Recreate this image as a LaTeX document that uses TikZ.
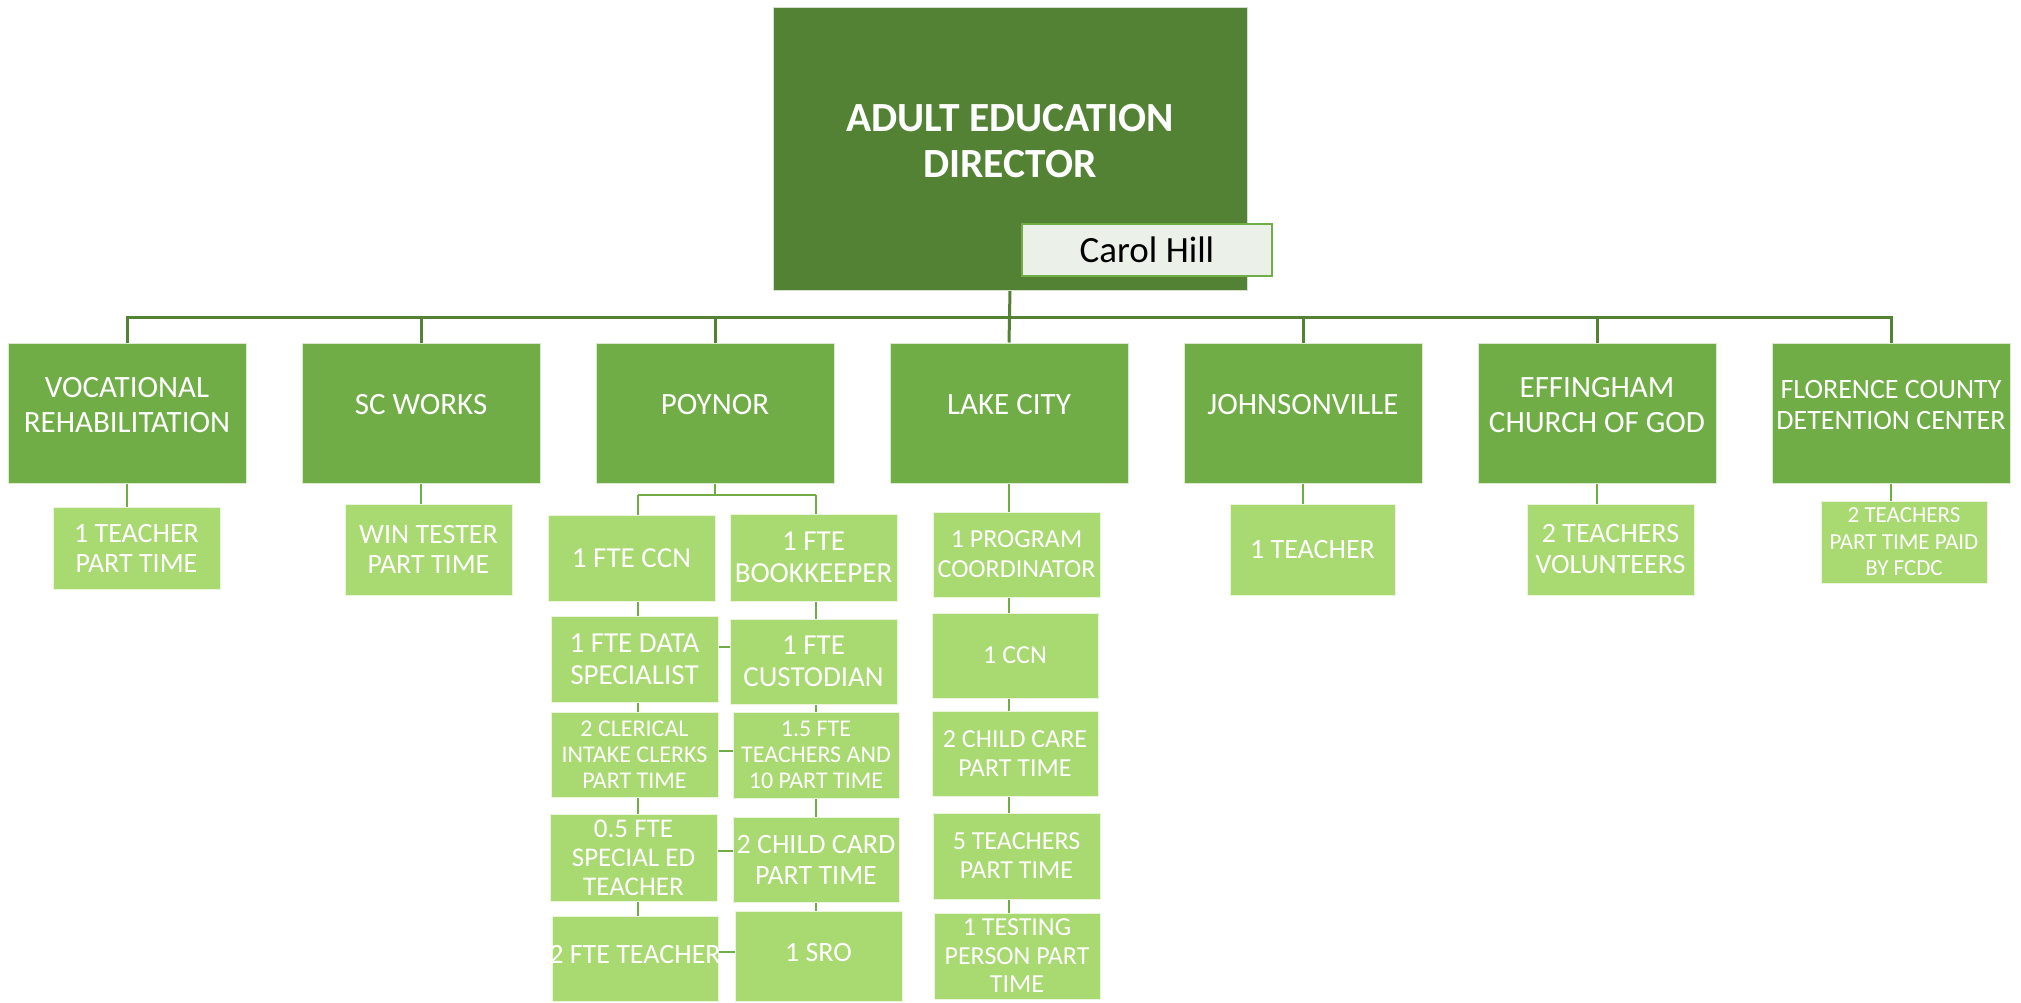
\documentclass[tikz,border=0pt]{standalone}
\usepackage{fontspec}
\setmainfont{Carlito}
\usetikzlibrary{calc}
\pgfdeclarelayer{bg}
\pgfsetlayers{bg,main}
\definecolor{dkgreen}{RGB}{84,130,53}
\definecolor{mdgreen}{RGB}{112,173,71}
\definecolor{ltgreen}{RGB}{169,217,113}
\definecolor{namebg}{RGB}{235,241,233}
\newcommand\myfs[2]{\fontsize{#1pt}{#2pt}\selectfont}
\begin{document}
\begin{tikzpicture}[x=1pt,y=-1pt,
  topbox/.style={fill=dkgreen, draw=white!75!dkgreen, line width=1pt, inner sep=0pt},
  lvlbox/.style={fill=mdgreen, draw=white!75!mdgreen, line width=1pt, inner sep=0pt, minimum width=238pt, minimum height=140pt},
  subbox/.style={fill=ltgreen, draw=white!75!ltgreen, line width=1pt, inner sep=0pt},
  wtxt/.style={text=white, align=center, inner sep=0pt},
  namebox/.style={fill=namebg, draw=mdgreen, line width=2.5pt, inner sep=0pt},
  busline/.style={draw=dkgreen, line width=3pt},
  subline/.style={draw=mdgreen, line width=2pt},
]
\useasboundingbox (0,0) rectangle (2021,1002);

% director
\node[topbox, minimum width=474pt, minimum height=283pt] (dir) at (1010,148.5) {};
\node[wtxt, font=\myfs{41.5}{46}\bfseries] (dirt) at ([yshift=7.5pt]dir.center) {ADULT EDUCATION\\DIRECTOR};
\node[namebox, minimum width=250pt, minimum height=52pt] (name) at (1147,250) {};
\node[text=black, inner sep=0pt, font=\myfs{37}{40}] (namet) at (name.center) {Carol Hill};

% level 1
\node[lvlbox] (voc) at (127,413) {};
\node[lvlbox] (scw) at (421,413) {};
\node[lvlbox] (poy) at (715,413) {};
\node[lvlbox] (lak) at (1009,413) {};
\node[lvlbox] (joh) at (1303,413) {};
\node[lvlbox] (eff) at (1597,413) {};
\node[lvlbox] (flo) at (1891,413) {};
\node[wtxt, font=\myfs{31}{35}] (voct) at ([yshift=8pt]voc.center) {VOCATIONAL\\REHABILITATION};
\node[wtxt, font=\myfs{31}{35}] (scwt) at ([yshift=8pt]scw.center) {SC WORKS};
\node[wtxt, font=\myfs{31}{35}] (poyt) at ([yshift=8pt]poy.center) {POYNOR};
\node[wtxt, font=\myfs{31}{35}] (lakt) at ([yshift=8pt]lak.center) {LAKE CITY};
\node[wtxt, font=\myfs{31}{35}] (joht) at ([yshift=8pt]joh.center) {JOHNSONVILLE};
\node[wtxt, font=\myfs{31}{35}] (efft) at ([yshift=8pt]eff.center) {EFFINGHAM\\CHURCH OF GOD};
\node[wtxt, font=\myfs{28}{31}] (flot) at ([yshift=8pt]flo.center) {FLORENCE COUNTY\\DETENTION CENTER};

% single children
\node[subbox, minimum width=167pt, minimum height=82pt] (vocc) at (136.5,548) {};
\node[wtxt, font=\myfs{28}{30}] (vocct) at (vocc.center) {1 TEACHER\\PART TIME};
\node[subbox, minimum width=167pt, minimum height=91pt] (scwc) at (428.5,549.5) {};
\node[wtxt, font=\myfs{28}{30}] (scwct) at (scwc.center) {WIN TESTER\\PART TIME};
\node[subbox, minimum width=165pt, minimum height=91pt] (johc) at (1312.5,549.5) {};
\node[wtxt, font=\myfs{28}{30}] (johct) at (johc.center) {1 TEACHER};
\node[subbox, minimum width=167pt, minimum height=91pt] (effc) at (1610.5,549.5) {};
\node[wtxt, font=\myfs{28}{31}] (effct) at (effc.center) {2 TEACHERS\\VOLUNTEERS};
\node[subbox, minimum width=166pt, minimum height=82pt] (floc) at (1904,542) {};
\node[wtxt, font=\myfs{23}{26.5}] (floct) at (floc.center) {2 TEACHERS\\PART TIME PAID\\BY FCDC};

% Poynor left column
\node[subbox, minimum width=167pt, minimum height=86pt] (p1) at (631.5,558) {};
\node[wtxt, font=\myfs{29}{32}] (p1t) at (p1.center) {1 FTE CCN};
\node[subbox, minimum width=167pt, minimum height=86pt] (p2) at (634.5,659) {};
\node[wtxt, font=\myfs{29}{32}] (p2t) at (p2.center) {1 FTE DATA\\SPECIALIST};
\node[subbox, minimum width=167pt, minimum height=85pt] (p3) at (634.5,754.5) {};
\node[wtxt, font=\myfs{24}{26}] (p3t) at (p3.center) {2 CLERICAL\\INTAKE CLERKS\\PART TIME};
\node[subbox, minimum width=167pt, minimum height=87pt] (p4) at (633.5,857.5) {};
\node[wtxt, font=\myfs{27}{29}] (p4t) at (p4.center) {0.5 FTE\\SPECIAL ED\\TEACHER};
\node[subbox, minimum width=166pt, minimum height=85pt] (p5) at (635,958.5) {};
\node[wtxt, font=\myfs{28}{31}] (p5t) at ([yshift=4pt]p5.center) {2 FTE TEACHER};
% Poynor right column
\node[subbox, minimum width=167pt, minimum height=87pt] (q1) at (813.5,557.5) {};
\node[wtxt, font=\myfs{29}{32}] (q1t) at (q1.center) {1 FTE\\BOOKKEEPER};
\node[subbox, minimum width=167pt, minimum height=85pt] (q2) at (813.5,661.5) {};
\node[wtxt, font=\myfs{29}{32}] (q2t) at (q2.center) {1 FTE\\CUSTODIAN};
\node[subbox, minimum width=166pt, minimum height=86pt] (q3) at (816,755) {};
\node[wtxt, font=\myfs{24}{26}] (q3t) at (q3.center) {1.5 FTE\\TEACHERS AND\\10 PART TIME};
\node[subbox, minimum width=166pt, minimum height=85pt] (q4) at (816,859.5) {};
\node[wtxt, font=\myfs{28}{31}] (q4t) at (q4.center) {2 CHILD CARD\\PART TIME};
\node[subbox, minimum width=167pt, minimum height=90pt] (q5) at (818.5,956) {};
\node[wtxt, font=\myfs{28}{31}] (q5t) at ([yshift=4pt]q5.center) {1 SRO};

% Lake City column
\node[subbox, minimum width=167pt, minimum height=85pt] (l1) at (1016.5,554.5) {};
\node[wtxt, font=\myfs{26}{30}] (l1t) at (l1.center) {1 PROGRAM\\COORDINATOR};
\node[subbox, minimum width=166pt, minimum height=85pt] (l2) at (1015,655.5) {};
\node[wtxt, font=\myfs{26}{30}] (l2t) at (l2.center) {1 CCN};
\node[subbox, minimum width=166pt, minimum height=85pt] (l3) at (1015,753.5) {};
\node[wtxt, font=\myfs{26}{29}] (l3t) at (l3.center) {2 CHILD CARE\\PART TIME};
\node[subbox, minimum width=167pt, minimum height=86pt] (l4) at (1016.5,856) {};
\node[wtxt, font=\myfs{26}{29}] (l4t) at (l4.center) {5 TEACHERS\\PART TIME};
\node[subbox, minimum width=166pt, minimum height=86pt] (l5) at (1017,956) {};
\node[wtxt, font=\myfs{26}{28.5}] (l5t) at (l5.center) {1 TESTING\\PERSON PART\\TIME};

% connectors
\coordinate (bus) at (0,317);
\coordinate (pl) at (638,495);
\coordinate (pr) at (816,495);
\begin{pgfonlayer}{bg}
\draw[busline] (dir.south) -- (lak.north);
\draw[busline] (voc.north) -- (voc.north |- bus) -- (flo.north |- bus) -- (flo.north);
\foreach \n in {scw,poy,joh,eff} {\draw[busline] (\n.north) -- (\n.north |- bus);}
\draw[subline] (voc.south) -- (voc.south |- vocc.north);
\draw[subline] (scw.south) -- (scw.south |- scwc.north);
\draw[subline] (joh.south) -- (joh.south |- johc.north);
\draw[subline] (eff.south) -- (eff.south |- effc.north);
\draw[subline] (flo.south) -- (flo.south |- floc.north);
\draw[subline] (poy.south) -- (poy.south |- pl);
\draw[subline] (pl) -- (pr);
\draw[subline] (pl) -- (pl |- p5.center);
\draw[subline] (pr) -- (pr |- q5.center);
\draw[subline] ([yshift=12pt]p2.center) -- ([yshift=12pt]p2.center -| q2.center);
\draw[subline] ([yshift=3.5pt]p3.center) -- ([yshift=3.5pt]p3.center -| q3.center);
\draw[subline] ([yshift=6.5pt]p4.center) -- ([yshift=6.5pt]p4.center -| q4.center);
\draw[subline] ([yshift=6.5pt]p5.center) -- ([yshift=6.5pt]p5.center -| q5.center);
\draw[subline] (lak.south) -- (lak.south |- l5.center);
\end{pgfonlayer}
\end{tikzpicture}
\end{document}
